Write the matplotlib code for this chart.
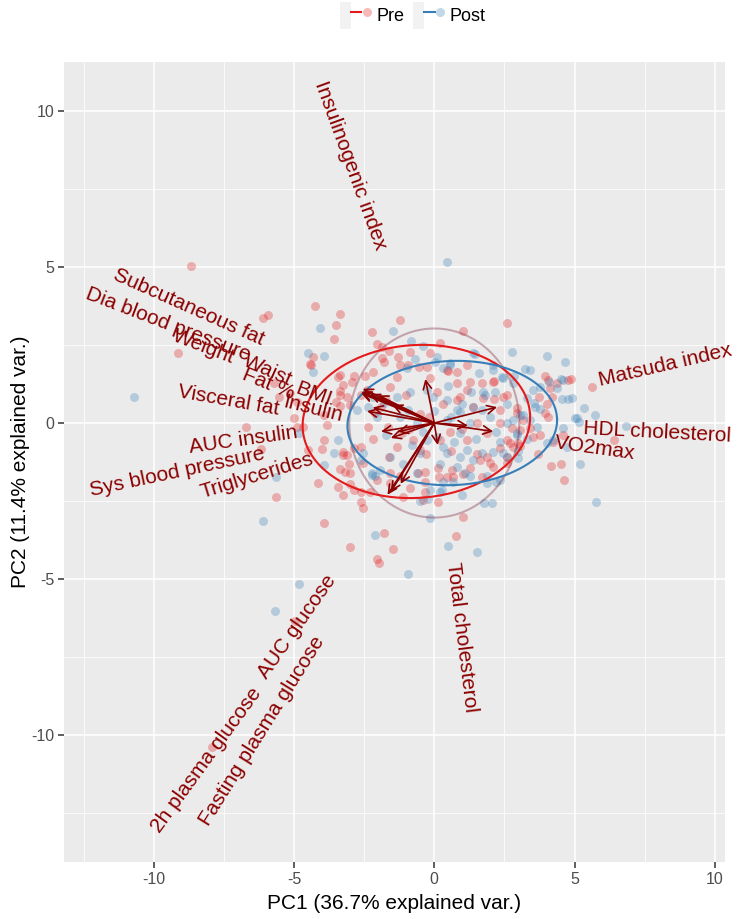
import numpy as np
import matplotlib
matplotlib.use('Agg')
import matplotlib.pyplot as plt
from matplotlib.lines import Line2D
from matplotlib.patches import Rectangle
from matplotlib.legend_handler import HandlerTuple

plt.rcParams['font.family'] = ['Liberation Sans', 'DejaVu Sans']
plt.rcParams['axes.unicode_minus'] = False

# --- data ---
groups = ['Pre', 'Post']
group_colors = ['#E41A1C', '#377EB8']

pre_points = [
    (-8.68, 5.03), (-4.27, 3.75), (-3.38, 3.49), (-6.12, 3.37), (-5.94, 3.46), (-3.52, 3.14),
    (-3.56, 2.69), (-9.15, 2.24), (-4.34, 2.12), (-4.45, 1.89), (-5.73, 1.28), (-3.38, 1.54),
    (-5.16, 0.96), (-5.55, 0.83), (-4.88, 0.67), (-3.52, 0.67), (-2.99, 0.58), (-6.73, -0.13),
    (-5.02, 0.16), (-4.88, -0.13), (-3.81, -0.06), (-3.99, -0.83), (-3.24, -0.93), (-6.19, -0.83),
    (-4.52, -0.87), (-3.17, -1.57), (-4.16, -1.92), (-3.42, -2.05), (-2.88, -2.15), (-5.66, -2.37),
    (-3.24, -2.31), (-3.06, -1.31), (-3.02, -1.60), (-2.60, -2.53), (-2.53, -2.72), (-3.95, -3.21),
    (-1.78, -3.53), (-2.99, -3.97), (-1.46, -4.04), (-2.06, -4.36), (-1.96, -4.49), (1.03, -3.01),
    (0.78, -3.62), (4.63, -1.83), (4.16, -1.38), (4.52, -1.31), (3.70, -0.99), (0.14, -2.53),
    (-0.32, -2.21), (-0.39, -2.47), (-1.10, -2.37), (-0.57, -1.60), (-0.32, -1.57), (0.18, -1.73),
    (0.68, -1.73), (1.03, -1.63), (1.53, -0.99), (-1.21, -1.70), (-2.03, -1.83), (-1.57, -1.92),
    (-2.60, -2.21), (2.60, -1.28), (2.70, -0.64), (3.06, -0.74), (1.99, -1.28), (1.71, -1.73),
    (-3.10, -1.03), (-4.98, -6.35), (-7.94, -10.38), (2.60, 3.21), (1.03, 2.95), (-1.21, 3.30),
    (-2.21, 2.92), (-2.06, 2.53), (3.95, 1.51), (4.88, 1.41), (5.62, 1.15), (4.13, 1.12),
    (3.74, 0.83), (4.02, 0.61), (4.06, 0.19), (3.77, -0.38), (4.24, -0.61), (6.41, -0.54),
    (4.59, -0.38), (2.60, 0.90), (2.14, 0.77), (1.17, 1.06), (-1.60, 2.31), (-1.85, 2.08),
    (-1.81, 1.96), (-1.28, 2.12), (-2.88, 1.51), (-2.46, 1.51), (-2.17, 1.63), (-2.92, 1.31),
    (-3.24, 1.22), (-3.38, 1.03), (-3.13, 0.83), (-3.35, 0.54), (-3.24, -1.03), (-2.88, -0.80),
    (-2.53, -1.28), (-3.35, -1.47), (-2.99, -1.96), (-2.28, -2.21), (-1.57, -1.60), (-0.85, -2.08),
    (-0.32, -1.89), (0.14, -1.44), (0.46, -1.73), (0.64, -1.51), (1.28, -1.44), (1.64, -1.19),
    (1.89, -1.09), (2.35, -0.80), (2.60, -0.54), (2.81, -0.77), (2.99, -0.64), (2.78, -0.16),
    (2.95, 0.32), (3.42, -0.16), (3.52, -0.45), (3.17, 0.10), (3.95, 0.32), (4.06, 1.38),
    (4.38, 1.28), (4.77, 1.38), (4.20, 0.83), (2.46, 0.83), (2.10, 1.31), (0.21, 2.56),
    (0.50, 1.67), (0.82, 1.63), (1.28, 1.31), (1.71, 1.28), (-0.14, 2.24), (-0.14, 1.44),
    (-0.85, 2.28), (-0.53, 1.80), (-1.21, 1.86), (-1.57, 1.15), (-1.32, 1.47), (-1.74, 0.74),
    (-2.10, 0.32), (-2.38, -0.13), (-1.64, -0.13), (-1.14, -0.32), (-1.32, -0.77), (-0.75, -0.54),
    (-0.50, -0.87), (0.21, -0.54), (0.57, -0.29), (1.17, -0.54), (1.53, 0.00), (1.39, 0.51),
    (0.82, 0.74), (2.35, 0.42), (1.89, -0.32), (2.10, -1.41), (2.60, -1.09), (-4.41, 1.86),
    (-3.45, 1.47), (-3.35, 0.90), (-3.95, 0.26), (-4.70, -0.13), (-3.95, -0.54), (-2.63, -0.77),
    (-1.85, 2.44), (-0.93, 1.86), (-0.25, 1.80), (1.17, 1.86), (2.14, 1.35), (0.46, 1.70),
    (0.82, 1.28), (0.93, 0.83), (1.74, 0.80), (2.95, 0.48), (2.35, 0.00), (3.06, -0.22),
    (-0.50, 0.30), (0.30, 0.60), (-0.90, -0.20), (0.60, -0.90), (-1.00, 0.90), (0.10, 1.00),
    (1.00, -0.20), (-0.30, -1.00), (-1.90, 0.50), (-2.20, -0.50), (-2.60, 0.90), (-2.40, 1.05),
    (-1.60, -1.10), (-0.20, 0.20),
]

post_points = [
    (-10.71, 0.83), (-4.06, 3.04), (-4.52, 2.24), (-3.95, 2.15), (-4.34, 1.63), (-4.84, -0.32),
    (-3.42, -0.54), (-3.95, -1.35), (-5.66, -1.73), (-6.12, -3.14), (-2.10, -3.59), (-0.93, -4.84),
    (-4.84, -5.16), (-5.69, -6.03), (-0.14, -3.04), (0.50, -3.94), (1.53, -4.13), (1.78, -2.56),
    (2.06, -2.56), (5.77, -2.53), (5.20, -1.31), (0.28, -2.15), (-0.21, -2.44), (0.68, -1.89),
    (1.28, -1.70), (-2.21, -1.67), (-2.10, -1.70), (2.46, -0.96), (2.21, -1.89), (1.89, -1.70),
    (2.99, -1.12), (-2.53, -0.96), (0.46, 5.16), (-1.49, 2.95), (-0.82, 2.63), (-0.39, 2.47),
    (2.78, 2.28), (4.02, 2.15), (4.66, 1.96), (3.24, 1.73), (4.09, 1.31), (4.52, 1.41),
    (4.38, 1.12), (4.56, 0.77), (4.77, 0.77), (4.91, 0.80), (5.34, 0.48), (5.09, 0.16),
    (5.16, 0.03), (3.56, 0.64), (3.77, 0.45), (3.67, -0.13), (2.85, 1.51), (2.42, 1.47),
    (2.10, 1.86), (1.46, 2.21), (5.73, 0.26), (6.83, -0.10), (4.73, -0.77), (5.02, 0.16),
    (-0.68, 2.05), (-0.96, 1.76), (0.11, 2.12), (0.04, 1.96), (0.57, 1.86), (0.32, 1.76),
    (1.39, 2.24), (2.10, 1.70), (2.46, 1.44), (2.81, 1.28), (3.42, 1.70), (3.52, 1.06),
    (3.77, 1.15), (4.59, 1.38), (4.59, -0.16), (4.24, -0.54), (4.02, -0.64), (3.59, 0.51),
    (3.17, 0.26), (2.95, -0.32), (2.35, -0.61), (2.10, -0.93), (1.71, -0.96), (1.39, -1.19),
    (1.17, -0.87), (0.93, -1.09), (0.82, -1.41), (0.46, -0.96), (0.32, -0.77), (0.11, -0.45),
    (-0.25, -0.54), (-0.50, -0.96), (-0.60, -1.60), (-0.14, -2.15), (0.21, -2.21), (1.89, -1.92),
    (2.35, -1.83), (2.60, -1.09), (0.93, -0.32), (1.28, 0.00), (1.71, 0.42), (0.82, 0.42),
    (0.46, 0.74), (-0.04, 0.83), (-0.25, 1.06), (-0.85, 1.00), (-1.32, 0.83), (-1.81, 0.64),
    (-2.17, 0.83), (-2.38, 0.51), (-2.74, 0.42), (-2.03, 0.19), (-1.74, -0.38), (-1.21, 0.19),
    (-0.93, 0.42), (-0.60, 0.00), (-1.57, -1.09), (-1.92, -1.51), (-2.21, -1.60), (-2.63, -1.19),
    (-3.59, -0.96), (0.57, 1.92), (1.74, 1.00), (2.17, 1.00), (3.31, 0.80), (3.06, 0.26),
    (3.42, 0.10), (2.60, 0.00), (2.95, -0.38), (1.39, 0.51), (0.93, 0.35), (0.46, 0.10),
    (0.60, 0.20), (1.00, 0.60), (1.50, -0.50), (2.00, 0.20), (0.20, -1.30), (1.10, -1.60),
    (0.00, 0.40), (-0.40, -0.30), (2.60, 0.60), (3.00, -0.90), (1.80, 0.90), (0.50, 1.20),
    (1.30, 1.00), (2.20, -0.30), (0.70, -0.60), (-0.80, -0.70), (3.30, -0.50), (2.80, 0.10),
    (1.60, 1.60), (-1.10, -1.30), (0.30, -1.90), (1.00, -2.30), (-0.50, -2.50),
]

var_names = [
    'Insulinogenic index', 'Subcutaneous fat', 'Dia blood pressure', 'Weight', 'Waist',
    'Fat %', 'BMI', 'Visceral fat', 'Insulin', 'AUC insulin', 'Sys blood pressure',
    'Triglycerides', '2h plasma glucose', 'AUC glucose', 'Fasting plasma glucose',
    'Total cholesterol', 'Matsuda index', 'HDL cholesterol', 'VO2max',
]
load_pc1 = [-0.32, -2.00, -1.50, -2.60, -2.55, -2.30, -2.60, -2.40, -2.20, -1.90, -1.30,
            -1.55, -1.67, -1.55, -1.20, 0.12, 2.24, 1.20, 2.10]
load_pc2 = [1.41, 0.89, 0.58, 1.00, 1.10, 0.93, 0.95, 0.38, 0.50, -0.27, -0.28,
            -0.48, -2.30, -2.20, -1.95, -0.70, 0.51, -0.08, -0.27]
label_pc1 = [-1.89, -6.09, -6.58, -7.15, -5.12, -5.02, -3.67, -5.55, -3.27, -4.88, -6.05,
             -4.31, -6.30, -3.63, -4.06, 0.64, 5.87, 5.30, 4.31]
label_pc2 = [5.58, 2.66, 2.15, 2.08, 1.35, 0.93, 0.71, 0.45, 0.22, -0.29, -0.99,
             -1.15, -8.56, -4.94, -6.89, -4.46, 1.37, -0.16, -0.64]
label_angle = [-70, -24, -21, -21, -24, -22, -20, -10, -14, 8, 12, 17, 54, 55, 58, -83, 13, -3, -8]

# normal data ellipses (centre, semi-axes, tilt) and correlation circle
ell_center = [(-0.64, 0.05), (0.64, 0.00)]
ell_axes = [(4.06, 2.45), (3.74, 1.99)]
ell_tilt = [3, 2]
circle_r = 3.03

fig = plt.figure(figsize=(7.55, 9.19), dpi=100)
ax = fig.add_axes([0.085, 0.062, 0.875, 0.8705])

ax.set_facecolor('#EBEBEB')
for s in ax.spines.values():
    s.set_visible(False)

for pts, col in zip([pre_points, post_points], group_colors):
    p = np.array(pts)
    ax.scatter(p[:, 0], p[:, 1], s=42, color=col, alpha=0.3, linewidths=0, zorder=2)

t = np.linspace(0, 2 * np.pi, 300)
ax.plot(circle_r * np.cos(t), circle_r * np.sin(t), color='#7A1F35', alpha=0.35, lw=1.5, zorder=3)

for (cx, cy), (a, b), th, col in zip(ell_center, ell_axes, ell_tilt, group_colors):
    th = np.radians(th)
    ex = cx + a * np.cos(t) * np.cos(th) - b * np.sin(t) * np.sin(th)
    ey = cy + a * np.cos(t) * np.sin(th) + b * np.sin(t) * np.cos(th)
    ax.plot(ex, ey, color=col, lw=1.5, zorder=4)

for x, y in zip(load_pc1, load_pc2):
    ax.annotate('', xy=(x, y), xytext=(0, 0),
                arrowprops=dict(arrowstyle='->,head_length=0.6,head_width=0.3',
                                color='darkred', lw=1.2, shrinkA=0, shrinkB=0),
                zorder=5)

for name, x, y, lx, ly, ang in zip(var_names, load_pc1, load_pc2, label_pc1, label_pc2, label_angle):
    ax.text(lx, ly, name, rotation=ang, rotation_mode='anchor',
            ha='left' if x > 0 else 'right', va='center',
            color='darkred', fontsize=15, zorder=6)

ax.set_xlim(-13.2, 10.36)
ax.set_ylim(-14.07, 11.57)
ax.set_xticks([-10, -5, 0, 5, 10])
ax.set_yticks([-10, -5, 0, 5, 10])
ax.set_xticks([-12.5, -7.5, -2.5, 2.5, 7.5], minor=True)
ax.set_yticks([-12.5, -7.5, -2.5, 2.5, 7.5], minor=True)
ax.grid(which='major', color='white', lw=1.1)
ax.grid(which='minor', color='white', lw=0.55)
ax.set_axisbelow(True)
ax.tick_params(which='major', length=4, width=1.1, color='#333333',
               labelcolor='#4D4D4D', labelsize=11.5, pad=3)
ax.tick_params(which='minor', length=0)

ax.set_xlabel('PC1 (36.7% explained var.)', fontsize=15, labelpad=5)
ax.set_ylabel('PC2 (11.4% explained var.)', fontsize=15, labelpad=1)

handles = []
for col in group_colors:
    bg = Rectangle((0, 0), 1, 1, facecolor='#F2F2F2', edgecolor='none')
    ln = Line2D([], [], color=col, lw=1.5)
    mk = Line2D([], [], color=col, marker='o', ls='none', markersize=6.5, alpha=0.3, markeredgewidth=0)
    handles.append((bg, ln, mk))
fig.legend(handles, groups, loc='center', bbox_to_anchor=(0.547, 0.983), ncol=2,
           frameon=False, fontsize=13, handlelength=1.75, handleheight=1.9,
           handletextpad=0.25, columnspacing=0.5, borderpad=0.1,
           handler_map={tuple: HandlerTuple(ndivide=None, pad=0)})

fig.savefig('out.png', dpi=100, facecolor='white')
